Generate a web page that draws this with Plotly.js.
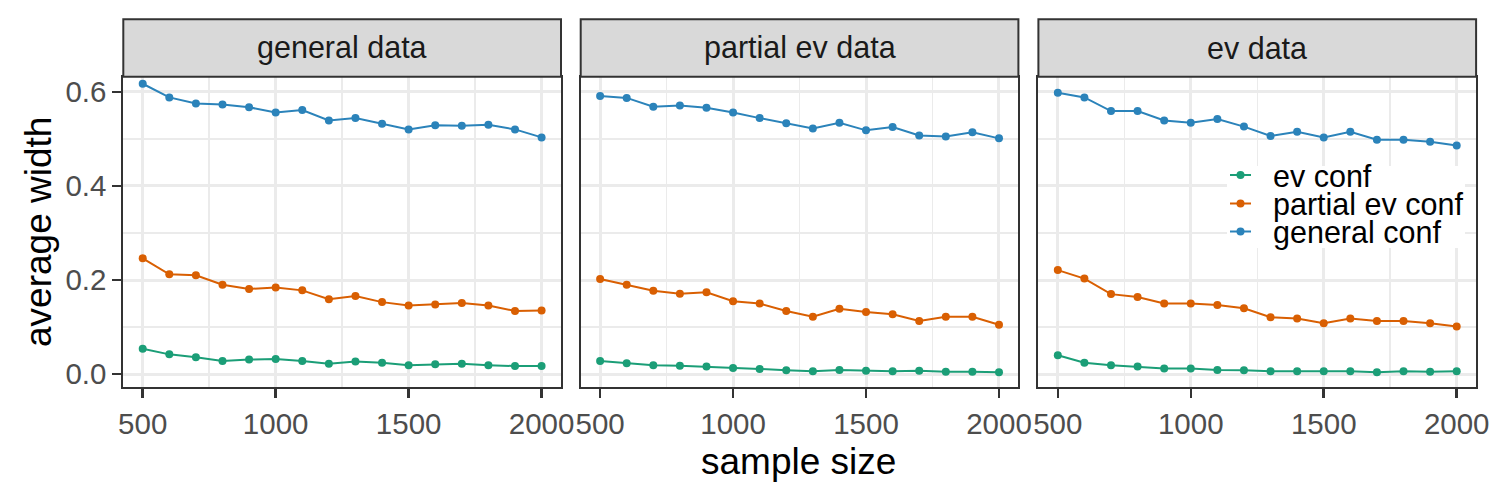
<!DOCTYPE html>
<html>
<head>
<meta charset="utf-8">
<script src="https://cdn.plot.ly/plotly-3.0.1.min.js"></script>
<style>html,body{margin:0;padding:0;background:#fff;}</style>
</head>
<body>
<div id="chart" style="width:1495px;height:498px;"></div>
<script>
// ---- data ----
const sampleSizes = [500,600,700,800,900,1000,1100,1200,1300,1400,1500,1600,1700,1800,1900,2000];
const panelNames = ["general data", "partial ev data", "ev data"];
const seriesNames = ["ev conf", "partial ev conf", "general conf"];
const seriesColors = ["#1b9e77", "#d95f02", "#2b83ba"];

// general data panel
const generalData_ev      = [0.054,0.042,0.036,0.028,0.031,0.032,0.028,0.022,0.027,0.024,0.019,0.021,0.022,0.019,0.017,0.017];
const generalData_partial = [0.246,0.212,0.210,0.190,0.181,0.184,0.178,0.159,0.166,0.153,0.146,0.148,0.151,0.146,0.134,0.135];
const generalData_general = [0.617,0.588,0.575,0.573,0.567,0.556,0.561,0.539,0.544,0.532,0.520,0.529,0.528,0.530,0.520,0.503];
// partial ev data panel
const partialData_ev      = [0.028,0.023,0.019,0.018,0.016,0.013,0.011,0.008,0.006,0.009,0.007,0.006,0.007,0.005,0.005,0.004];
const partialData_partial = [0.202,0.190,0.177,0.171,0.174,0.155,0.150,0.134,0.122,0.139,0.132,0.127,0.113,0.122,0.122,0.105];
const partialData_general = [0.591,0.587,0.568,0.571,0.566,0.556,0.544,0.533,0.522,0.534,0.518,0.525,0.507,0.505,0.514,0.501];
// ev data panel
const evData_ev      = [0.040,0.024,0.019,0.016,0.012,0.012,0.009,0.008,0.006,0.006,0.006,0.006,0.004,0.006,0.005,0.006];
const evData_partial = [0.221,0.203,0.170,0.164,0.150,0.150,0.147,0.140,0.121,0.118,0.108,0.118,0.113,0.113,0.108,0.101];
const evData_general = [0.598,0.588,0.559,0.559,0.539,0.534,0.542,0.526,0.506,0.515,0.503,0.515,0.498,0.498,0.494,0.486];

const xTickVals = [500,1000,1500,2000];
const xMinorVals = [750,1250,1750];
const yTickVals = [0,0.2,0.4,0.6];
const yTickText = ["0.0","0.2","0.4","0.6"];
const yMinorVals = [0.1,0.3,0.5];

// ---- layout constants ----
const W = 1495, H = 498;
const FONT = "Liberation Sans, Arial, Helvetica, sans-serif";
const panelPx = [[123.3,561.0],[580.7,1018.4],[1038.4,1476.1]];
const plotTopPx = 76.7, plotBotPx = 387.3, stripTopPx = 19.3;
const yDomain = [(H-plotBotPx)/H, (H-plotTopPx)/H];

const panelSeries = [
  [generalData_ev, generalData_partial, generalData_general],
  [partialData_ev, partialData_partial, partialData_general],
  [evData_ev, evData_partial, evData_general]
];

const traces = [];
panelSeries.forEach((ser, p) => {
  const sfx = p === 0 ? "" : String(p+1);
  ser.forEach((vals, s) => {
    traces.push({
      type: "scatter", mode: "lines+markers",
      x: sampleSizes, y: vals,
      xaxis: "x"+sfx, yaxis: "y"+sfx,
      name: seriesNames[s], showlegend: false,
      line: {color: seriesColors[s], width: 2},
      marker: {color: seriesColors[s], size: 8},
      hoverinfo: "x+y+name"
    });
  });
});

const layout = {
  width: W, height: H,
  margin: {l:0, r:0, t:0, b:0},
  paper_bgcolor: "#ffffff", plot_bgcolor: "#ffffff",
  font: {family: FONT, color: "#000"},
  showlegend: false,
  shapes: [], annotations: []
};

panelSeries.forEach((ser, p) => {
  const sfx = p === 0 ? "" : String(p+1);
  const dom = [panelPx[p][0]/W, panelPx[p][1]/W];
  layout["xaxis"+sfx] = {
    domain: dom, anchor: "y"+sfx, range: [427, 2073],
    tickmode: "array", tickvals: xTickVals,
    ticks: "outside", ticklen: 9, tickwidth: 2.5, tickcolor: "#333333",
    tickfont: {family: FONT, size: 29.5, color: "#4d4d4d"},
    showgrid: true, gridcolor: "#ebebeb", gridwidth: 3,
    minor: {tickmode: "array", tickvals: xMinorVals, showgrid: true, gridcolor: "#ebebeb", gridwidth: 1.5, ticks: ""},
    zeroline: false, showline: true, linecolor: "#333333", linewidth: 2, mirror: true,
    automargin: false, fixedrange: true
  };
  layout["yaxis"+sfx] = {
    domain: yDomain, anchor: "x"+sfx, range: [-0.028, 0.632],
    tickmode: "array", tickvals: yTickVals, ticktext: yTickText,
    ticks: p === 0 ? "outside" : "", ticklen: 9, tickwidth: 2.5, tickcolor: "#333333",
    showticklabels: p === 0,
    tickfont: {family: FONT, size: 29.5, color: "#4d4d4d"},
    showgrid: true, gridcolor: "#ebebeb", gridwidth: 3,
    minor: {tickmode: "array", tickvals: yMinorVals, showgrid: true, gridcolor: "#ebebeb", gridwidth: 1.5, ticks: ""},
    zeroline: false, showline: true, linecolor: "#333333", linewidth: 2, mirror: true,
    automargin: false, fixedrange: true
  };
  // strip
  layout.shapes.push({
    type: "rect", xref: "paper", yref: "paper",
    x0: dom[0], x1: dom[1], y0: yDomain[1], y1: (H-stripTopPx)/H,
    fillcolor: "#d9d9d9", line: {color: "#333333", width: 2}, layer: "above"
  });
  layout.annotations.push({
    xref: "paper", yref: "paper", x: (dom[0]+dom[1])/2, y: (H-(stripTopPx+plotTopPx)/2)/H,
    text: panelNames[p], showarrow: false, xanchor: "center", yanchor: "middle",
    font: {family: FONT, size: 30.5, color: "#1a1a1a"}
  });
});

// axis titles
layout.annotations.push({
  xref: "paper", yref: "paper", x: 799/W, y: (H-461)/H,
  text: "sample size", showarrow: false, xanchor: "center", yanchor: "middle",
  font: {family: FONT, size: 37, color: "#000"}
});
layout.annotations.push({
  xref: "paper", yref: "paper", x: 38/W, y: (H-(plotTopPx+plotBotPx)/2)/H,
  text: "average width", showarrow: false, textangle: -90, xanchor: "center", yanchor: "middle",
  font: {family: FONT, size: 37, color: "#000"}
});

// legend (drawn inside the third panel)
const legBox = {x0: 1227, x1: 1465, y0: 166, y1: 248};
layout.shapes.push({
  type: "rect", xref: "paper", yref: "paper",
  x0: legBox.x0/W, x1: legBox.x1/W, y0: (H-legBox.y1)/H, y1: (H-legBox.y0)/H,
  fillcolor: "#ffffff", line: {width: 0}, layer: "above"
});
const legRowY = [175, 203.5, 231.5];
seriesNames.forEach((nm, i) => {
  const yy = (H - legRowY[i]) / H;
  layout.shapes.push({
    type: "line", xref: "paper", yref: "paper",
    x0: 1230/W, x1: 1251/W, y0: yy, y1: yy,
    line: {color: seriesColors[i], width: 2}, layer: "above"
  });
  layout.shapes.push({
    type: "circle", xref: "paper", yref: "paper",
    x0: (1240.5-4)/W, x1: (1240.5+4)/W, y0: yy - 4/H, y1: yy + 4/H,
    fillcolor: seriesColors[i], line: {color: seriesColors[i], width: 0}, layer: "above"
  });
  layout.annotations.push({
    xref: "paper", yref: "paper", x: 1271/W, y: (H - legRowY[i] - 1)/H,
    text: nm, showarrow: false, xanchor: "left", yanchor: "middle",
    font: {family: FONT, size: 30.5, color: "#000"}
  });
});

Plotly.newPlot("chart", traces, layout, {displayModeBar: false, staticPlot: true});
</script>
</body>
</html>
